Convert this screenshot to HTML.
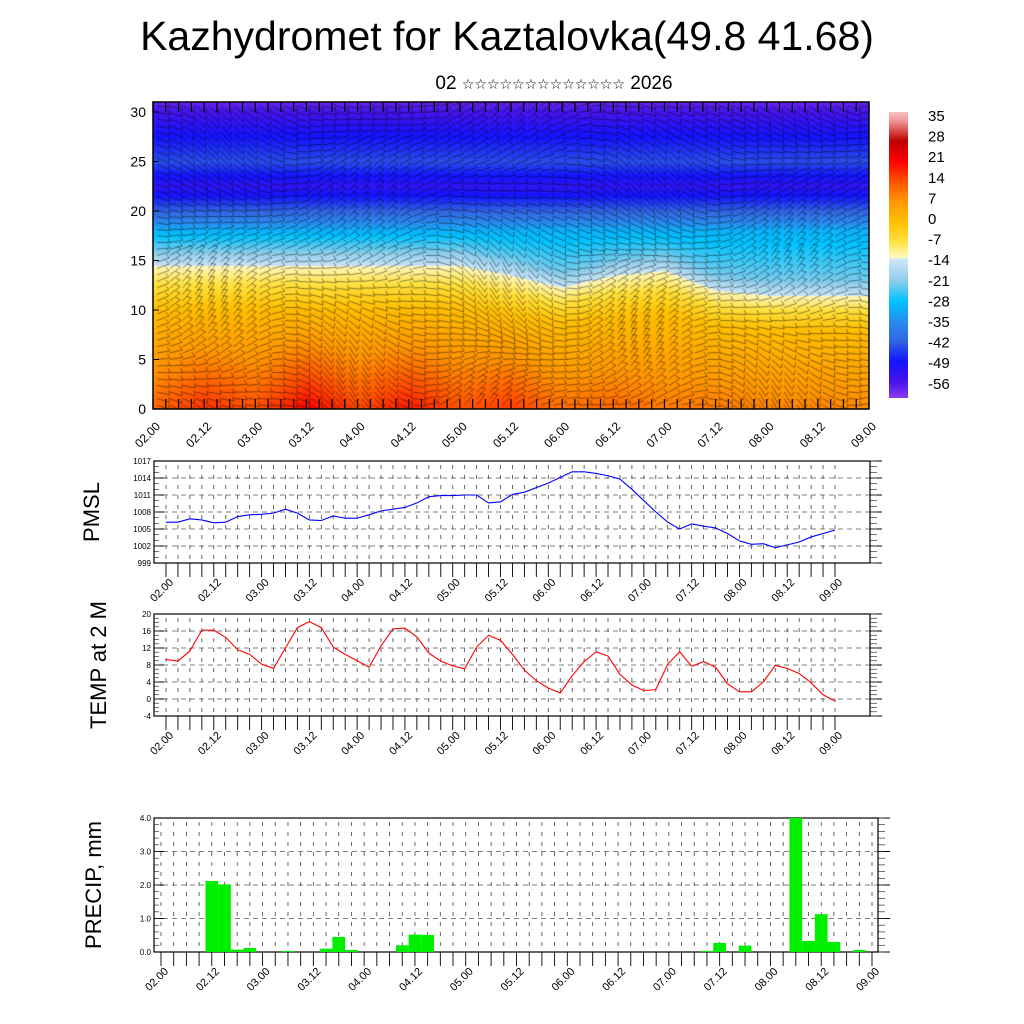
<!DOCTYPE html>
<html><head><meta charset="utf-8">
<style>
body{margin:0;background:#fff;width:1024px;height:1024px;overflow:hidden;position:relative;font-family:"Liberation Sans",sans-serif}
#title{position:absolute;left:0;width:1014px;top:13px;text-align:center;font-size:41px;color:#000}
#subtitle{position:absolute;left:0;width:1108px;top:73px;text-align:center;font-size:19px;color:#000;font-family:"Liberation Sans","DejaVu Sans",sans-serif}
#subtitle span{font-size:14px}
#field{position:absolute;left:153px;top:102px}
#cbar{position:absolute;left:889px;top:112px}
svg{position:absolute;left:0;top:0}
</style></head><body>
<div id="title">Kazhydromet for Kaztalovka(49.8 41.68)</div>
<div id="subtitle">02 <span>☆☆☆☆☆☆☆☆☆☆☆☆☆</span> 2026</div>
<canvas id="field" width="716" height="307"></canvas>
<canvas id="cbar" width="19" height="286"></canvas>
<svg id="svg" width="1024" height="1024"></svg>
<script>
const timeLabels=["02.00","02.12","03.00","03.12","04.00","04.12","05.00","05.12","06.00","06.12","07.00","07.12","08.00","08.12","09.00"];
const surfTemp=[12,17,14,21,15,19,14,16,11,12,10,10,9,9,8];
const tropHeight=[14.5,14.5,14.5,14.5,14.5,14.5,14.5,13.5,12.3,13.5,14,12,11.5,11.5,11.5];
const cbarLabels=["35","28","21","14","7","0","-7","-14","-21","-28","-35","-42","-49","-56"];
const pmsl=[1006.2,1006.2,1006.8,1006.6,1006.1,1006.2,1007.2,1007.5,1007.6,1007.8,1008.5,1007.8,1006.6,1006.5,1007.3,1006.9,1006.9,1007.5,1008.2,1008.5,1008.8,1009.6,1010.7,1010.9,1010.9,1011,1011,1009.6,1009.8,1011.1,1011.5,1012.3,1013.1,1014.1,1015.1,1015.1,1014.8,1014.4,1013.8,1012,1010,1008,1006.2,1005,1005.9,1005.5,1005.2,1004.2,1002.9,1002.3,1002.4,1001.7,1002.2,1002.7,1003.6,1004.2,1004.8];
const temp2m=[9.3,8.9,11.3,16.2,16.2,14.5,11.6,10.5,8.2,7.2,12,16.8,18.2,16.8,12.2,10.5,9,7.5,12.5,16.5,16.7,14.6,10.8,8.9,7.8,7.1,12.2,15,13.8,10.5,6.8,4.3,2.6,1.4,5.5,8.8,11.1,10.1,5.8,3.3,2,2.2,8.2,11.1,7.7,8.8,7.5,3.6,1.7,1.7,4,7.9,7.2,6,3.8,1.0,-0.5];
const precip=[0,0,0,0,2.12,2.02,0.07,0.12,0,0,0.03,0,0,0.1,0.45,0.06,0,0,0,0.2,0.52,0.51,0,0,0,0,0,0,0,0,0,0,0,0,0,0,0,0,0,0,0,0,0,0.03,0.27,0,0.19,0,0,0,4.0,0.33,1.13,0.3,0,0.06,0];
const pmslTicks=[999,1002,1005,1008,1011,1014,1017];
const tempTicks=[-4,0,4,8,12,16,20];
const precipTicks=[0,1,2,3,4];

const NS="http://www.w3.org/2000/svg";
const svg=document.getElementById('svg');
function mk(tag,attrs,name,parent){const e=document.createElementNS(NS,tag);for(const k in attrs)e.setAttribute(k,attrs[k]);


(parent||svg).appendChild(e);return e;}

const cstops=[[38,[250,190,190]],[35,[240,150,150]],[28,[190,0,0]],[21,[255,0,0]],[14,[255,80,0]],[7,[255,150,0]],[0,[255,190,0]],[-7,[255,225,60]],[-12.9,[255,250,200]],[-13.1,[210,232,248]],[-21,[140,205,235]],[-28,[0,195,255]],[-35,[40,140,240]],[-42,[50,100,225]],[-49,[20,20,255]],[-56,[70,20,235]],[-62,[140,60,240]]];
function cmap(v){if(v>=cstops[0][0])return cstops[0][1];for(let i=0;i<cstops.length-1;i++){const a=cstops[i],b=cstops[i+1];if(v<=a[0]&&v>=b[0]){const f=(a[0]-v)/(a[0]-b[0]);return a[1].map((c,j)=>Math.round(c+(b[1][j]-c)*f));}}return cstops[cstops.length-1][1];}
function pw(pts,h){if(h<=pts[0][0])return pts[0][1];for(let i=0;i<pts.length-1;i++){if(h<=pts[i+1][0]){const f=(h-pts[i][0])/(pts[i+1][0]-pts[i][0]);return pts[i][1]+(pts[i+1][1]-pts[i][1])*f;}}return pts[pts.length-1][1];}
function lerpArr(arr,t){const i=Math.min(Math.floor(t),arr.length-2);const f=t-i;return arr[i]+(arr[i+1]-arr[i])*f;}
function fieldVal(t,h){const s=lerpArr(surfTemp,t),tH=lerpArr(tropHeight,t);
 if(h<tH)return pw([[0,s],[tH*0.7,0],[tH,-12.5]],h);
 return pw([[tH,-14],[tH+1.5,-22],[18,-30],[20,-42],[22.5,-53],[25,-44],[28,-50],[31.5,-60]],h);}
const FW=716,FH=307;
const fc=document.getElementById('field').getContext('2d');
const img=fc.createImageData(FW,FH);
for(let y=0;y<FH;y++){const h=(FH-y)/9.9;for(let x=0;x<FW;x++){const t=x/FW*14;const c=cmap(fieldVal(t,h));const k=(y*FW+x)*4;img.data[k]=c[0];img.data[k+1]=c[1];img.data[k+2]=c[2];img.data[k+3]=255;}}
fc.putImageData(img,0,0);
fc.strokeStyle='rgba(0,0,0,0.6)';fc.lineWidth=0.75;
for(let gx=4;gx<FW;gx+=12.8){for(let gy=4;gy<FH;gy+=6.5){
 const a=0.6*Math.sin(gx*0.013+gy*0.02)+0.4*Math.sin(gx*0.031-gy*0.017)*(gy>150?1.2:0.6);
 const L=13;const dx=Math.cos(a)*L,dy=Math.sin(a)*L;
 fc.beginPath();fc.moveTo(gx,gy);fc.lineTo(gx+dx,gy+dy);
 fc.lineTo(gx+dx+Math.cos(a-2)*5,gy+dy+Math.sin(a-2)*5);fc.stroke();}}
const cb=document.getElementById('cbar').getContext('2d');
for(let y=0;y<286;y++){const v=38-(y/286)*100;const c=cmap(v);cb.fillStyle=`rgb(${c[0]},${c[1]},${c[2]})`;cb.fillRect(0,y,19,1);}
cbarLabels.forEach((l,i)=>{const t=mk('text',{x:928,y:121+i*20.6,'font-size':15},'colorbar-label');t.textContent=l;});

const TX0=153,TX1=869,TY0=102,TY1=409;
mk('rect',{x:TX0,y:TY0,width:TX1-TX0,height:TY1-TY0,fill:'none',stroke:'#000','stroke-width':1.5},'cross-section-frame');
[0,5,10,15,20,25,30].forEach(v=>{const y=TY1-v*9.9;const t=mk('text',{x:146,y:y+5,'font-size':14,'text-anchor':'end'},'y-tick-label');t.textContent=v;
 mk('line',{x1:TX0,x2:TX0+6,y1:y,y2:y,stroke:'#000'},'y-tick');});
for(let i=0;i<=56;i++){const x=TX0+i*(TX1-TX0)/56;
 mk('line',{x1:x,x2:x,y1:TY1,y2:TY1-10,stroke:'#000','stroke-width':1.2},'x-tick');
 mk('line',{x1:x,x2:x,y1:TY0,y2:TY0+10,stroke:'#000','stroke-width':1.2},'x-tick-top');}
timeLabels.forEach((l,i)=>{const x=TX0+i*(TX1-TX0)/14;const t=mk('text',{x:x+8,y:TY1+18,'font-size':12,'text-anchor':'end',transform:`rotate(-45 ${x+8} ${TY1+18})`},'x-tick-label');t.textContent=l;});

function linePanel(opts){
 const {x0,x1,y0,y1,vmin,vmax,ticks,minor,data,color,dx0,dx1,title,ty,fs,name,lblfmt}=opts;
 const g=mk('g',{},name+'-panel');
 const ys=v=>y1-(v-vmin)/(vmax-vmin)*(y1-y0);
 const xs=i=>dx0+i*(dx1-dx0)/(data.length-1);
 for(let i=0;i<data.length;i++){mk('line',{x1:xs(i),x2:xs(i),y1:y0+4,y2:y1,stroke:'#444','stroke-width':0.8,'stroke-dasharray':'4,6'},'grid-v',g);}
 ticks.forEach(v=>{mk('line',{x1:x0,x2:x1,y1:ys(v),y2:ys(v),stroke:'#555','stroke-width':0.8,'stroke-dasharray':'5,4'},'grid-h',g);
  mk('line',{x1:x0,x2:x0+10,y1:ys(v),y2:ys(v),stroke:'#000'},'y-tick',g);
  mk('line',{x1:x1,x2:x1+12,y1:ys(v),y2:ys(v),stroke:'#000'},'y-tick-right',g);
  const t=mk('text',{x:x0-3,y:ys(v)+3,'font-size':fs,'text-anchor':'end'},'y-tick-label',g);t.textContent=lblfmt(v);});
 for(let v=vmin;v<=vmax+1e-9;v+=minor){mk('line',{x1:x0,x2:x0+5,y1:ys(v),y2:ys(v),stroke:'#333','stroke-width':0.7},'y-minor-tick',g);
  mk('line',{x1:x1,x2:x1+7,y1:ys(v),y2:ys(v),stroke:'#333','stroke-width':0.7},'y-minor-tick-right',g);}
 mk('rect',{x:x0,y:y0,width:x1-x0,height:y1-y0,fill:'none',stroke:'#000','stroke-width':1.2},'panel-frame',g);
 for(let i=0;i<data.length;i++){mk('line',{x1:xs(i),x2:xs(i),y1:y1,y2:y1+14,stroke:'#000','stroke-width':0.9},'x-tick',g);}
 timeLabels.forEach((l,i)=>{const x=dx0+i*(dx1-dx0)/14;const t=mk('text',{x:x+8,y:y1+20,'font-size':11,'text-anchor':'end',transform:`rotate(-45 ${x+8} ${y1+20})`},'x-tick-label',g);t.textContent=l;});
 if(color){mk('polyline',{points:data.map((v,i)=>xs(i)+','+ys(v)).join(' '),fill:'none',stroke:color,'stroke-width':1.1},name+'-line',g);}
 const tt=mk('text',{x:0,y:0,'font-size':22,'text-anchor':'middle',transform:`translate(${opts.tx} ${ty}) rotate(-90)`},name+'-axis-title',g);tt.textContent=title;
 return {g,xs,ys};
}
linePanel({x0:154,x1:870,y0:461,y1:563,vmin:999,vmax:1017,ticks:pmslTicks,minor:1,data:pmsl,color:'#0000ff',dx0:166,dx1:835,title:'PMSL',tx:99,ty:512,fs:8,name:'pmsl',lblfmt:v=>v});
linePanel({x0:154,x1:870,y0:614,y1:716,vmin:-4,vmax:20,ticks:tempTicks,minor:1,data:temp2m,color:'#ff0000',dx0:166,dx1:835,title:'TEMP at 2 M',tx:106,ty:665,fs:8,name:'temp',lblfmt:v=>v});
const pp=linePanel({x0:154,x1:878,y0:818,y1:952,vmin:0,vmax:4,ticks:precipTicks,minor:0.2,data:precip,color:null,dx0:161,dx1:872,title:'PRECIP, mm',tx:101,ty:885,fs:8,name:'precip',lblfmt:v=>v.toFixed(1)});
const bw=(872-161)/56;
precip.forEach((v,i)=>{if(v<=0)return;const vv=Math.min(v,4);mk('rect',{x:pp.xs(i)-bw/2,y:pp.ys(vv),width:bw,height:952-pp.ys(vv),fill:'#00ee00'},'precip-bar',pp.g);});
</script>
</body></html>
